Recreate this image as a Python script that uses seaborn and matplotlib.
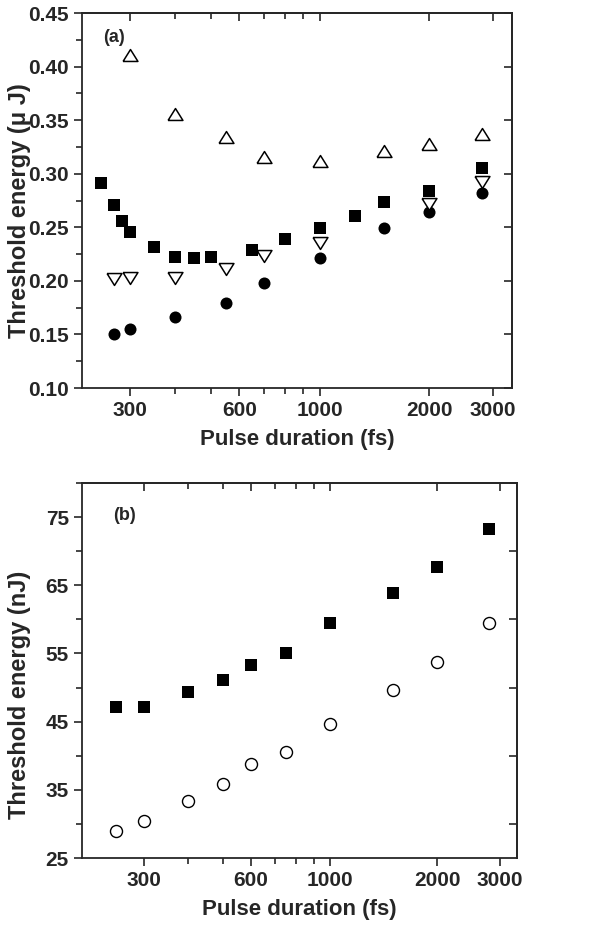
import matplotlib
matplotlib.use("Agg")
import matplotlib.pyplot as plt
import matplotlib.ticker as mticker
from matplotlib.markers import MarkerStyle
import seaborn as sns

# panel (a): threshold energy in uJ
sq_a_x = [250, 270, 285, 300, 350, 400, 450, 500, 650, 800, 1000, 1250, 1500, 2000, 2800]
sq_a_y = [0.291, 0.271, 0.256, 0.246, 0.232, 0.222, 0.221, 0.222, 0.229, 0.239, 0.249, 0.261, 0.274, 0.284, 0.305]
ci_a_x = [270, 300, 400, 550, 700, 1000, 1500, 2000, 2800]
ci_a_y = [0.150, 0.155, 0.166, 0.179, 0.198, 0.221, 0.249, 0.264, 0.282]
dn_a_x = [270, 300, 400, 550, 700, 1000, 2000, 2800]
dn_a_y = [0.202, 0.203, 0.203, 0.211, 0.223, 0.235, 0.272, 0.292]
up_a_x = [300, 400, 550, 700, 1000, 1500, 2000, 2800]
up_a_y = [0.411, 0.356, 0.334, 0.316, 0.312, 0.321, 0.328, 0.337]

# panel (b): threshold energy in nJ
b_x = [250, 300, 400, 500, 600, 750, 1000, 1500, 2000, 2800]
sq_b_y = [47.2, 47.2, 49.4, 51.1, 53.3, 55.0, 59.4, 63.9, 67.7, 73.3]
ci_b_y = [28.9, 30.4, 33.4, 35.9, 38.8, 40.6, 44.6, 49.7, 53.8, 59.5]

xticks = [300, 600, 1000, 2000, 3000]
xminor = [400, 500, 700, 800, 900]

sns.set_style("ticks")
plt.rcParams['font.family'] = ['Liberation Sans', 'DejaVu Sans']
plt.rcParams['font.weight'] = 'bold'

# slightly flattened triangles, like the original
tri_up = MarkerStyle([(-1, -0.8), (1, -0.8), (0, 0.8), (-1, -0.8)])
tri_dn = MarkerStyle([(-1, 0.8), (1, 0.8), (0, -0.8), (-1, 0.8)])

fig = plt.figure(figsize=(6.13, 9.27), dpi=100)
ax1 = fig.add_axes([82 / 613, 1 - 388 / 927, 430 / 613, 375 / 927])
ax2 = fig.add_axes([82 / 613, 1 - 858 / 927, 435 / 613, 375 / 927])

ms = 75
sns.scatterplot(x=sq_a_x, y=sq_a_y, marker="s", s=ms, color="black", linewidth=0, ax=ax1)
sns.scatterplot(x=ci_a_x, y=ci_a_y, marker="o", s=ms, color="black", linewidth=0, ax=ax1)
sns.scatterplot(x=dn_a_x, y=dn_a_y, marker=tri_dn, s=115, facecolor="white", edgecolor="black", linewidth=1.1, ax=ax1)
sns.scatterplot(x=up_a_x, y=up_a_y, marker=tri_up, s=115, facecolor="white", edgecolor="black", linewidth=1.1, ax=ax1)

sns.scatterplot(x=b_x, y=sq_b_y, marker="s", s=ms, color="black", linewidth=0, ax=ax2)
sns.scatterplot(x=b_x, y=ci_b_y, marker="o", s=ms, facecolor="white", edgecolor="black", linewidth=1.0, ax=ax2)

for ax in (ax1, ax2):
    ax.set_xscale("log")
    ax.xaxis.set_major_locator(mticker.FixedLocator(xticks))
    ax.xaxis.set_major_formatter(mticker.FixedFormatter([str(t) for t in xticks]))
    ax.xaxis.set_minor_locator(mticker.FixedLocator(xminor))
    ax.xaxis.set_minor_formatter(mticker.NullFormatter())
    for s in ax.spines.values():
        s.set_visible(True)
        s.set_linewidth(1.3)
    ax.tick_params(axis="both", which="major", length=6, width=1.2, labelsize=15)
    ax.tick_params(axis="both", which="minor", length=4, width=1.2)
    ax.tick_params(axis="both", which="both", direction="out")
    # inward ticks on the top and right spines
    sec_x = ax.secondary_xaxis("top")
    sec_y = ax.secondary_yaxis("right")
    for sec in (sec_x, sec_y):
        for s in sec.spines.values():
            s.set_linewidth(1.3)
    sec_x.xaxis.set_major_locator(mticker.FixedLocator(xticks))
    sec_x.xaxis.set_minor_locator(mticker.FixedLocator(xminor))
    sec_x.tick_params(which="both", direction="in", labeltop=False, width=1.2)
    sec_x.tick_params(which="major", length=6)
    sec_x.tick_params(which="minor", length=4)
    sec_y.tick_params(which="both", direction="in", labelright=False, width=1.2)
    sec_y.tick_params(which="major", length=6)
    sec_y.tick_params(which="minor", length=4)
    ax.set_xlabel("Pulse duration (fs)", fontsize=16, fontweight="bold", labelpad=6)
    for lab in ax.get_xticklabels() + ax.get_yticklabels():
        lab.set_fontweight("bold")

ax1.set_xlim(221, 3384)
ax1.set_ylim(0.10, 0.45)
ax1.yaxis.set_major_locator(mticker.MultipleLocator(0.05))
ax1.yaxis.set_minor_locator(mticker.MultipleLocator(0.025))
ax1.yaxis.set_major_formatter(mticker.FormatStrFormatter("%.2f"))
ax1.set_ylabel("Threshold energy (\u03bc J)", fontsize=17, fontweight="bold", va="center")
ax1.yaxis.set_label_coords(-62 / 430, 0.472)
ax1.text(0.049, 0.922, "(a)", transform=ax1.transAxes, fontsize=13, fontweight="bold")

ax2.set_xlim(201, 3350)
ax2.set_ylim(25, 80)
ax2.yaxis.set_major_locator(mticker.FixedLocator([25, 35, 45, 55, 65, 75]))
ax2.yaxis.set_minor_locator(mticker.FixedLocator([30, 40, 50, 60, 70, 80]))
ax2.set_ylabel("Threshold energy (nJ)", fontsize=17, fontweight="bold", va="center")
ax2.yaxis.set_label_coords(-62 / 435, 0.435)
ax2.text(0.071, 0.90, "(b)", transform=ax2.transAxes, fontsize=13, fontweight="bold")

fig.savefig("out.png", dpi=100)
